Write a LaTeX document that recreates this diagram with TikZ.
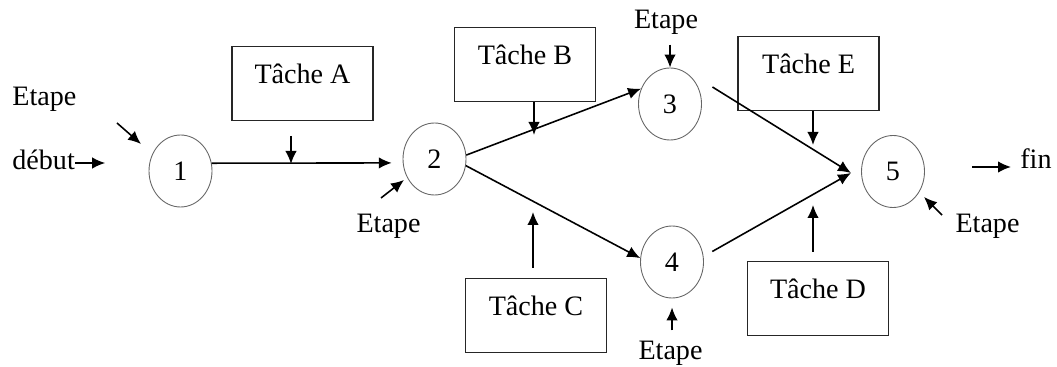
\documentclass[tikz,border=0pt]{standalone}
\usepackage{fontspec}
\setmainfont{Liberation Serif}
\usetikzlibrary{arrows.meta,shapes.geometric,calc}

\begin{document}
\begin{tikzpicture}[
  x=0.02cm, y=-0.02cm,
  font=\fontsize{16}{19}\selectfont,
  stage/.style ={ellipse, draw=black!60, line width=0.5pt, inner sep=0pt,
                 minimum width=1.26cm, minimum height=1.44cm},
  task/.style  ={draw=black!85, line width=0.8pt, anchor=north, inner sep=0pt,
                 minimum width=2.82cm, text height=0.74cm, text depth=0.74cm},
  lbl/.style   ={inner sep=0pt, anchor=base},
  ar/.style    ={-{Latex[length=2.6mm,width=2.3mm]}, line width=0.9pt}
]
\useasboundingbox (0,0) rectangle (1057,367);

% ---------- stages ----------
\node[stage] (c1) at (180.5,171) {1};
\node[stage] (c2) at (434.5,159) {2};
\node[stage] (c3) at (670,104)   {3};
\node[stage] (c4) at (672,262)   {4};
\node[stage] (c5) at (893,171.5) {5};
\coordinate (jn) at (851,173);

% ---------- tasks ----------
\node[task] (ta) at (302.5,46) {T\^ache A\hspace{8pt}};
\node[task] (tb) at (525,27)   {T\^ache B\hspace{8pt}};
\node[task] (tc) at (536,278)  {T\^ache C\hspace{8pt}};
\node[task] (te) at (808.5,36) {T\^ache E\hspace{8pt}};
\node[task] (td) at (818,261)  {T\^ache D\hspace{8pt}};

% ---------- labels ----------
\node[lbl, anchor=base west] (e1)  at (12,106)    {Etape};
\node[lbl, anchor=base west] (deb) at (12,170)    {d\'ebut};
\node[lbl] (e2)  at (388.5,233) {Etape};
\node[lbl] (e3)  at (666,29)    {Etape};
\node[lbl] (e4)  at (670.5,359) {Etape};
\node[lbl] (e5)  at (987.5,233) {Etape};
\node[lbl, anchor=base west] (fin) at (1020,169) {fin};

% ---------- network ----------
\draw[ar, shorten >=0.22cm] (c1.14) -- (c2.187);
\draw[ar] (c2.7) -- (c3.152);
\draw[ar] (c2.-12) -- (c4.173);
\draw[ar] ($(c3.east)+(10.5,-17)$) -- (jn);
\draw[ar, shorten <=0.2cm] (c4.10) -- (jn);

% ---------- task arrows ----------
\coordinate (ka) at (291,164);
\coordinate (kb) at (534,135);
\coordinate (kc) at (533,212);
\coordinate (ke) at (813,145);
\coordinate (kd) at (813,205);
\draw[ar] ($(ka)+(0,-28)$) -- (ka);
\draw[ar] (kb |- tb.south) -- (kb);
\draw[ar] ($(kc)+(0,56)$) -- (kc);
\draw[ar] (ke |- te.south) -- (ke);
\draw[ar] ($(kd)+(0,47)$) -- (kd);

% ---------- stage markers ----------
\draw[ar] ($(c1)+(-63.5,-48)$) -- ($(c1)+(-39.5,-27)$);
\draw[ar] (deb.east |- 0,163) -- ++(30,0);
\draw[ar] ($(c2)+(-53.5,39)$) -- ($(c2)+(-30.5,21)$);
\draw[ar] ($(c3.north)+(0,-23)$) -- (c3.north);
\draw[ar] ($(c4.south)+(0,32)$) -- ($(c4.south)+(0,9)$);
\draw[ar] ($(c5)+(49,43.5)$) -- ($(c5)+(31,25.5)$);
\coordinate (f0) at (972,167);
\draw[ar] (f0) -- ($(f0 -| fin.west)+(-9,0)$);
\end{tikzpicture}
\end{document}
